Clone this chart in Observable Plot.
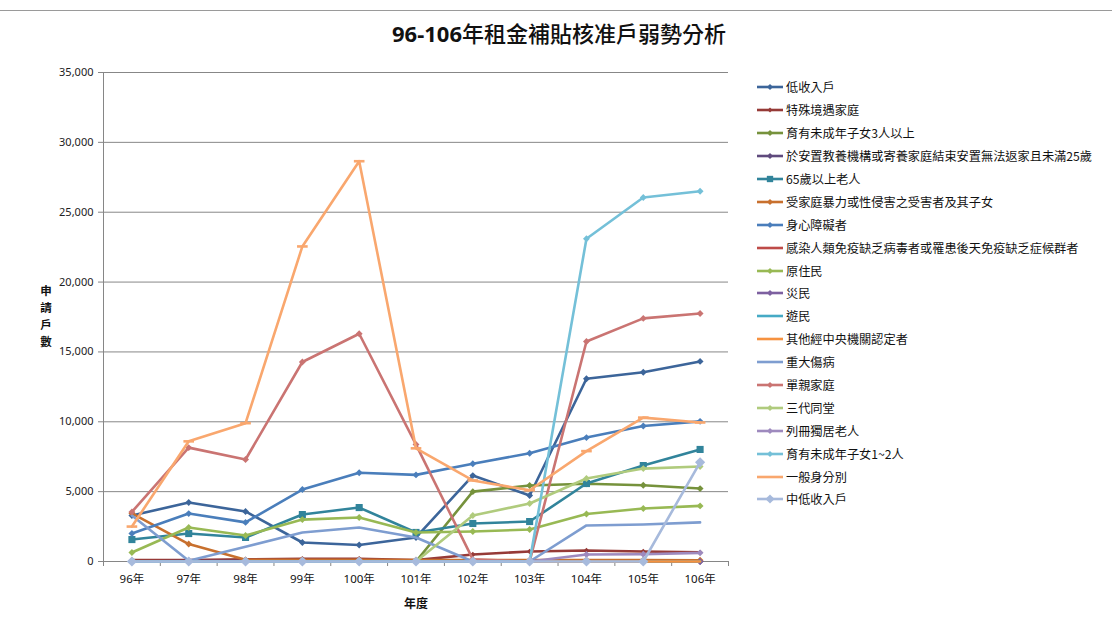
<!DOCTYPE html>
<html>
<head>
<meta charset="utf-8">
<script src="https://cdn.jsdelivr.net/npm/d3@7"></script>
<script src="https://cdn.jsdelivr.net/npm/@observablehq/plot@0.6"></script>
<style>
  html, body { margin: 0; padding: 0; background: #fff; }
  #wrap { position: relative; width: 1112px; height: 635px; overflow: hidden; background: #fff; }
  #topline { position: absolute; left: 0; top: 10px; width: 1112px; height: 0; border-top: 1px solid #9a9a9a; }
  #title { position: absolute; left: 0; width: 1118px; top: 17px; text-align: center; font-size: 22px; line-height: 30px; color: #111; }
  #title .num { font-family: "Noto Sans", sans-serif; font-weight: bold; }
  #title .cjk { font-family: "Noto Sans CJK TC", sans-serif; font-weight: 500; }
  #ylab { position: absolute; left: 38px; top: 282px; width: 16px; font-family: "Noto Sans CJK TC", sans-serif; font-weight: bold; font-size: 11.5px; line-height: 17px; text-align: center; color: #111; }
  #ylab div { height: 17px; }
  #xlab { position: absolute; left: 366px; width: 100px; top: 594px; text-align: center; font-family: "Noto Sans CJK TC", sans-serif; font-weight: bold; font-size: 12px; color: #111; }
  #plot { position: absolute; left: 0; top: 0; }
  #legend { position: absolute; left: 757px; top: 76px; font-family: "Noto Sans CJK TC", "Noto Sans", sans-serif; font-size: 12.2px; color: #111; }
  #legend .row { height: 22.9px; display: flex; align-items: center; white-space: nowrap; }
  #legend svg { display: block; margin-right: 2px; }
</style>
</head>
<body>
<div id="wrap">
  <div id="topline"></div>
  <div id="title"><span class="num">96-106</span><span class="cjk">年租金補貼核准戶弱勢分析</span></div>
  <div id="plot"></div>
  <div id="ylab"><div>申</div><div>請</div><div>戶</div><div>數</div></div>
  <div id="xlab">年度</div>
  <div id="legend"></div>
</div>
<script>
// ---- data ----
const years = ["96年","97年","98年","99年","100年","101年","102年","103年","104年","105年","106年"];
const yTicks = [0, 5000, 10000, 15000, 20000, 25000, 30000, 35000];

const names = [
  "低收入戶",
  "特殊境遇家庭",
  "育有未成年子女3人以上",
  "於安置教養機構或寄養家庭結束安置無法返家且未滿25歲",
  "65歲以上老人",
  "受家庭暴力或性侵害之受害者及其子女",
  "身心障礙者",
  "感染人類免疫缺乏病毒者或罹患後天免疫缺乏症候群者",
  "原住民",
  "災民",
  "遊民",
  "其他經中央機關認定者",
  "重大傷病",
  "單親家庭",
  "三代同堂",
  "列冊獨居老人",
  "育有未成年子女1~2人",
  "一般身分別",
  "中低收入戶"
];

const lowIncome      = [3290, 4220, 3580, 1360, 1180, 1720, 6150, 4720, 13080, 13550, 14320];
const specialFamily  = [100, 100, 150, 200, 200, 100, 500, 720, 790, 720, 650];
const kids3Plus      = [0, 0, 0, 0, 0, 0, 5000, 5440, 5560, 5460, 5220];
const fosterYouth    = [0, 40, 40, 40, 40, 0, 0, 0, 0, 0, 0];
const elderly65      = [1570, 2000, 1720, 3360, 3860, 2080, 2720, 2860, 5580, 6870, 8020];
const violenceVictim = [3450, 1250, 120, 120, 120, 100, 100, 100, 100, 100, 90];
const disabled       = [2000, 3430, 2800, 5150, 6350, 6200, 7000, 7750, 8870, 9700, 10030];
const hivAids        = [0, 0, 0, 0, 0, 0, 0, 0, 0, 0, 0];
const indigenous     = [640, 2430, 1860, 3000, 3150, 2080, 2150, 2290, 3400, 3790, 3980];
const disasterVictim = [0, 0, 0, 0, 0, 0, 0, 0, 0, 0, 0];
const homeless       = [0, 0, 0, 0, 0, 0, 0, 0, 0, 0, 0];
const otherCentral   = [0, 0, 0, 0, 0, 0, 0, 0, 0, 0, 0];
const seriousIllness = [3300, 60, 1050, 2080, 2430, 1720, 0, 0, 2580, 2650, 2800];
const singleParent   = [3550, 8150, 7300, 14280, 16300, 8370, 150, 0, 15750, 17400, 17750];
const threeGen       = [0, 0, 0, 0, 0, 0, 3290, 4150, 5940, 6650, 6800];
const livingAlone    = [0, 0, 0, 0, 0, 0, 0, 0, 500, 520, 620];
const kids1to2       = [0, 0, 0, 0, 0, 0, 0, 0, 23100, 26050, 26500];
const general        = [2500, 8600, 9900, 22550, 28650, 8100, 5800, 5100, 7900, 10300, 9950];
const midLowIncome   = [0, 0, 0, 0, 0, 0, 0, 0, 0, 0, 7100];

const valuesList = [lowIncome, specialFamily, kids3Plus, fosterYouth, elderly65, violenceVictim,
  disabled, hivAids, indigenous, disasterVictim, homeless, otherCentral,
  seriousIllness, singleParent, threeGen, livingAlone, kids1to2, general, midLowIncome];

// ---- styles ----
const colors = ["#3C659A","#963A37","#76923C","#5F4A7D","#31849B","#C8702E",
  "#4A7EBB","#BE4B48","#98B954","#7D60A0","#46AAC5","#F69240",
  "#7E9DD0","#CA7472","#B0CB7D","#9E8ABE","#74C0D8","#F9A76E","#A7BADC"];
const markers = ["diamond","small","diamond","diamond","square","diamond",
  "diamond","none","diamond","diamond","none","none",
  "none","diamond","diamond","diamond","diamond","dash","big"];

const dashSymbol = {
  draw(ctx, size) {
    const w = Math.sqrt(size) * 0.75, h = 1.3;
    ctx.moveTo(-w, -h); ctx.lineTo(w, -h); ctx.lineTo(w, h); ctx.lineTo(-w, h); ctx.closePath();
  }
};
function markerSpec(m) {
  switch (m) {
    case "diamond": return {symbol: "diamond2", r: 3.1};
    case "small": return {symbol: "diamond2", r: 2.5};
    case "big": return {symbol: "diamond2", r: 4.6};
    case "square": return {symbol: "square", r: 4.0};
    case "dash": return {symbol: dashSymbol, r: 4};
    default: return null;
  }
}

const rows = [];
names.forEach((n, s) => valuesList[s].forEach((v, i) => rows.push({series: n, s, i, value: v})));

const idx = years.map((_, i) => i);
const bounds = d3.range(-0.5, years.length, 1);

const marks = [
  Plot.gridY(yTicks, {stroke: "#878787", strokeOpacity: 1, strokeWidth: 1}),
  Plot.frame({anchor: "left", stroke: "#868686"}),
  Plot.frame({anchor: "bottom", stroke: "#868686"}),
  Plot.axisY(yTicks, {tickFormat: d3.format(","), tickSize: 5, tickPadding: 5, fontSize: 11, stroke: "#868686", fill: "#222", label: null}),
  Plot.axisX(idx, {tickFormat: i => years[i], tickSize: 0, tickPadding: 13, fontSize: 11.5, fill: "#111", label: null, fontFamily: "Noto Sans, Noto Sans CJK TC"}),
  Plot.axisX(bounds, {tickFormat: () => "", tickSize: 5, stroke: "#868686", label: null})
];

names.forEach((n, s) => {
  const data = rows.filter(d => d.s === s);
  marks.push(Plot.line(data, {x: "i", y: "value", stroke: colors[s], strokeWidth: 2.6, strokeLinejoin: "round", strokeLinecap: "round"}));
  const spec = markerSpec(markers[s]);
  if (spec) marks.push(Plot.dot(data, {x: "i", y: "value", symbol: () => spec.symbol, r: spec.r, fill: colors[s], stroke: "none"}));
});

const chart = Plot.plot({
  width: 1112,
  height: 635,
  marginLeft: 103,
  marginRight: 384,
  marginTop: 72,
  marginBottom: 74,
  style: {fontFamily: "Noto Sans, Noto Sans CJK TC, sans-serif", background: "transparent"},
  x: {type: "linear", domain: [-0.5, years.length - 0.5], axis: null},
  y: {domain: [0, 35000], axis: null},
  symbol: {type: "identity"},
  marks
});
document.getElementById("plot").appendChild(chart);

// ---- legend ----
const legend = d3.select("#legend");
names.forEach((n, s) => {
  const row = legend.append("div").attr("class", "row");
  const svg = row.append("svg").attr("width", 27).attr("height", 12);
  svg.append("line").attr("x1", 0).attr("x2", 26).attr("y1", 6).attr("y2", 6)
    .attr("stroke", colors[s]).attr("stroke-width", 2.6);
  const spec = markerSpec(markers[s]);
  if (spec && markers[s] !== "dash") {
    const sym = spec.symbol === "square" ? d3.symbolSquare : d3.symbolDiamond2;
    svg.append("path").attr("transform", "translate(13,6)")
      .attr("d", d3.symbol(sym, Math.PI * spec.r * spec.r * 0.8)())
      .attr("fill", colors[s]);
  }
  row.append("span").text(n);
});
</script>
</body>
</html>
